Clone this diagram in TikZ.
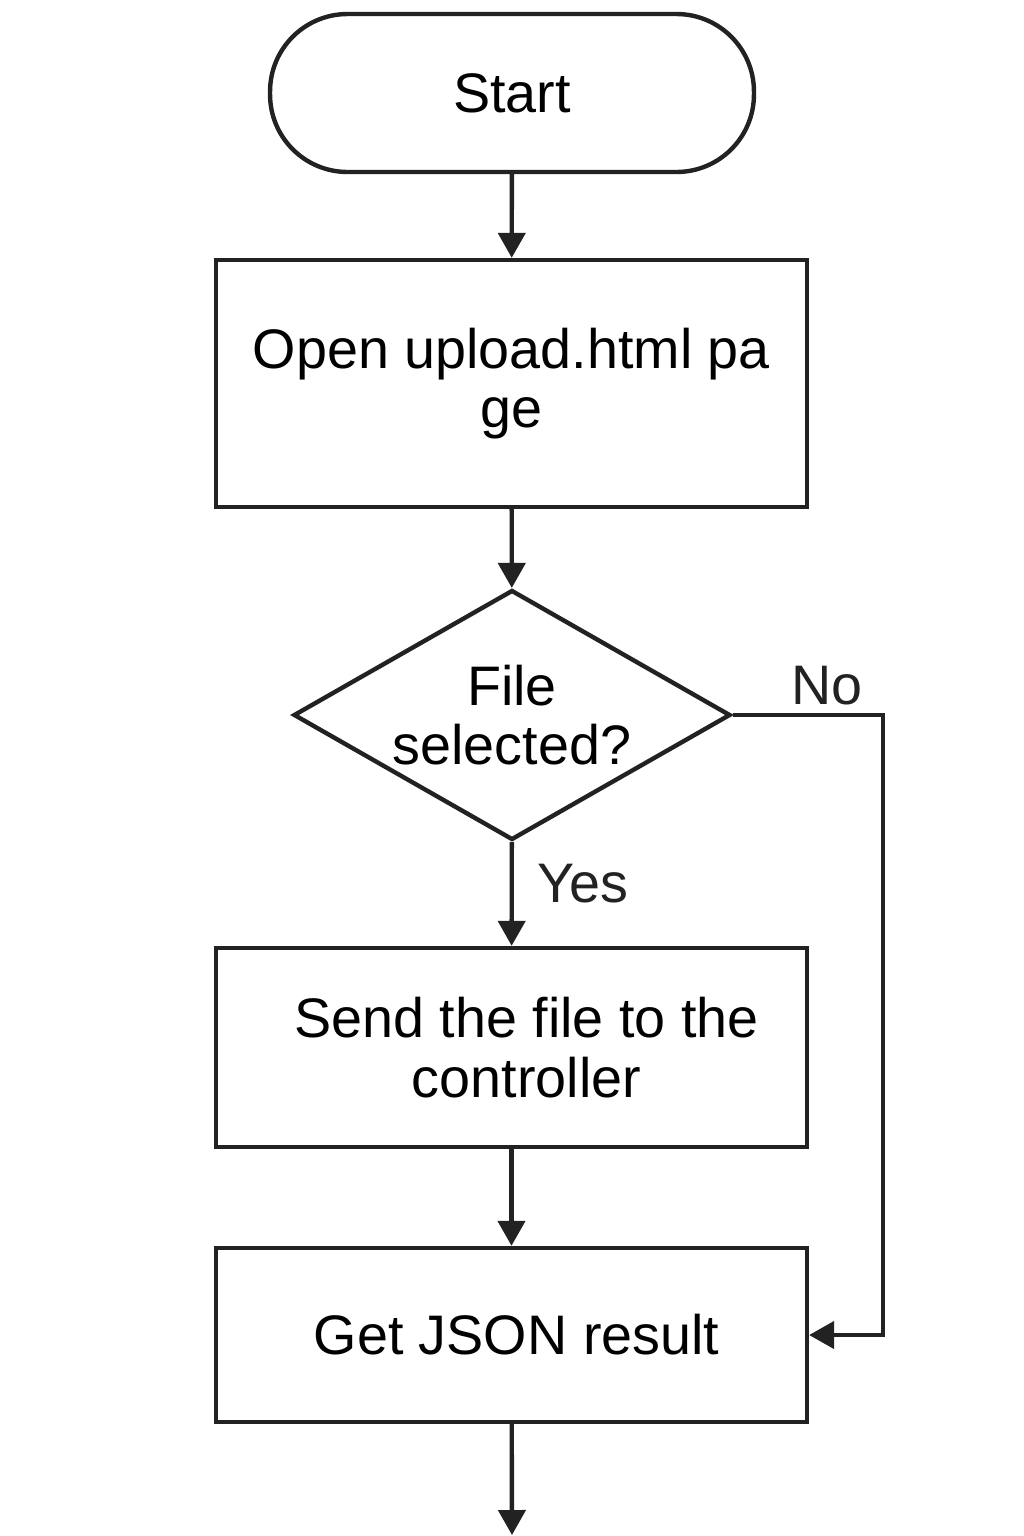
\documentclass[tikz,border=0pt]{standalone}
\usepackage{fontspec}
\setmainfont{Liberation Sans}
\usetikzlibrary{shapes.geometric}
\usetikzlibrary{arrows.meta}
\definecolor{lineclr}{HTML}{222222}

\begin{document}
\begin{tikzpicture} [x=0.02cm, y=-0.02cm, line width=2.5pt, draw=lineclr, text=black,
        every node/.style={font=\fontsize{31.7}{34}\selectfont, align=center},
        box/.style={draw, rectangle, minimum width=11.82cm, inner sep=0pt},
        term/.style={draw, rectangle, rounded corners=1.55cm, minimum width=9.68cm, minimum height=3.16cm},
        decision/.style={draw, diamond, shape aspect=1.75, inner sep=0pt, minimum width=8.74cm, minimum height=5cm}]
            \useasboundingbox (0,0) rectangle (1024,1536);

            \node[term] (start) at (512, 93)                             {Start};
            \node[box, minimum height=4.94cm] (open) at (511.5, 383.5)  {Open upload.html pa\\ge};
            \node[decision] (sel) at (512, 715)                          {File\\selected?};
            \node[box, minimum height=3.98cm] (send) at (511.5, 1047.5) {\hspace*{0.6cm}Send the file to the\\\hspace*{0.6cm}controller};
            \node[box, minimum height=3.48cm] (get) at (511.5, 1335)    {\hspace*{0.2cm}Get JSON result};
            \coordinate (noline) at (883, 715);
            \coordinate (end) at (512, 1535);

            \begin{scope}[->, >={Triangle[length=0.5cm, width=0.54cm]}, lineclr]
                \draw (start) -- (open);
                \draw (open) -- (sel);
                \draw (sel) -- (send) node [pos=0.4, right=10pt] {Yes};
                \draw (send) -- (get);
                \draw (get) -- (end);
                \draw[line join=miter] (sel.east) -- (noline) node [pos=0.63, above=1pt] {No} |- (get.east);
            \end{scope}
        \end{tikzpicture}
\end{document}
